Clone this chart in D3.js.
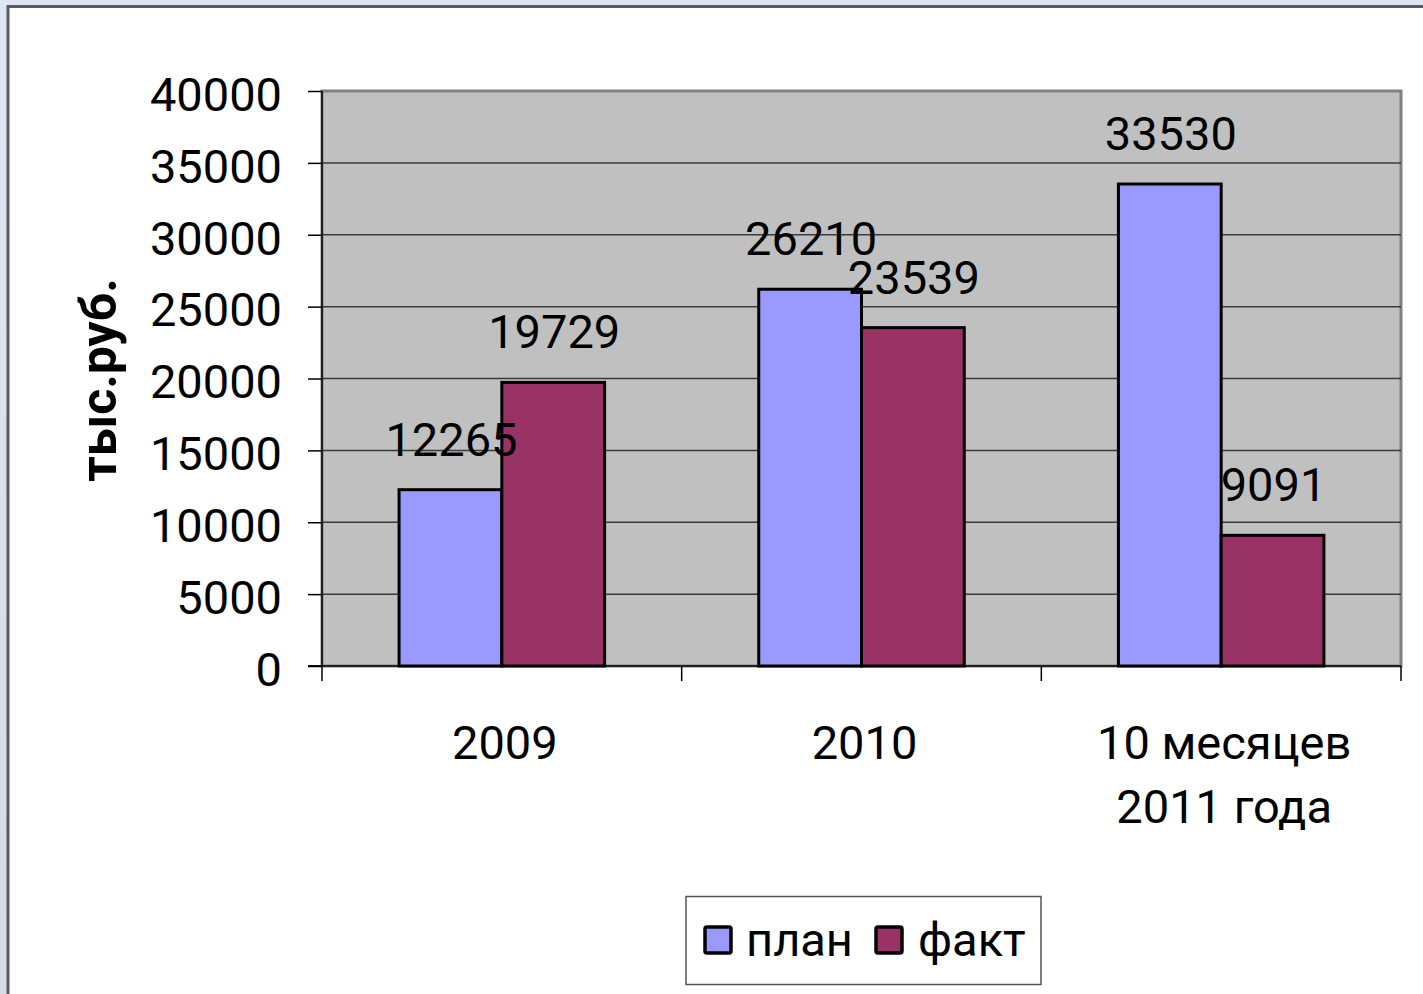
<!DOCTYPE html>
<html><head><meta charset="utf-8">
<script src="https://cdn.jsdelivr.net/npm/d3@7/dist/d3.min.js"></script>
<style>
html,body{margin:0;padding:0;overflow:hidden;background:#d9e0ee;}
svg{display:block;}
text{font-family:Roboto,"Noto Sans",Arial,sans-serif;fill:#000;}
</style></head>
<body>
<svg id="chart" width="1423" height="994"></svg>
<script>
const categories = [["2009"], ["2010"], ["10 месяцев", "2011 года"]];
const seriesNames = ["план", "факт"];
const planValues = [12265, 26210, 33530];
const factValues = [19729, 23539, 9091];
const yTicks = [0, 5000, 10000, 15000, 20000, 25000, 30000, 35000, 40000];
const yTitle = "тыс.руб.";
const colors = ["#9999ff", "#993366"];

const svg = d3.select("#chart");
// slide background
const defs = svg.append("defs");
const lg = defs.append("linearGradient").attr("id","bg").attr("x1","0").attr("y1","0").attr("x2","0").attr("y2","1");
lg.append("stop").attr("offset","0").attr("stop-color","#dfe6f3");
lg.append("stop").attr("offset","1").attr("stop-color","#d6dbe6");
svg.append("rect").attr("width",1423).attr("height",994).attr("fill","url(#bg)");
// white chart panel
svg.append("rect").attr("x",8).attr("y",6.5).attr("width",1430).attr("height",1000)
  .attr("fill","#fff").attr("stroke","#5c5c5c").attr("stroke-width",3);

const L = 322, R = 1401, T = 91, B = 666;
const x0 = d3.scaleBand().domain(d3.range(categories.length)).range([L, R]).paddingInner(0).paddingOuter(0);
const bw = x0.bandwidth() / 3.5;
const x1 = d3.scaleBand().domain(d3.range(seriesNames.length)).range([0.75*bw, 2.75*bw]).padding(0);
const y = d3.scaleLinear().domain([0, 40000]).range([B, T]);

// plot area
svg.append("rect").attr("x",L).attr("y",T).attr("width",R-L).attr("height",B-T)
  .attr("fill","#c0c0c0").attr("stroke","#808080").attr("stroke-width",3);

// gridlines
svg.append("g").selectAll("line").data(yTicks.filter(d=>d>0 && d<40000)).join("line")
  .attr("x1",L).attr("x2",R).attr("y1",d=>y(d)).attr("y2",d=>y(d))
  .attr("stroke","#3a3a3a").attr("stroke-width",1.5);

// y axis
const yAxis = d3.axisLeft(y).tickValues(yTicks).tickSize(14).tickPadding(26).tickFormat(d3.format("d"));
const ya = svg.append("g").attr("transform",`translate(${L},0)`).call(yAxis);
ya.select(".domain").attr("stroke","#000").attr("stroke-width",1.5).attr("d",`M-14,${B}H0V${T}`);
ya.selectAll(".tick line").attr("stroke","#000").attr("stroke-width",1.5);
ya.selectAll(".tick text").style("font-size","47px").attr("dy","0.41em").attr("fill","#000");

// x axis
const xa = svg.append("g").attr("transform",`translate(0,${B})`);
xa.append("line").attr("x1",L-14).attr("x2",R).attr("y1",0).attr("y2",0).attr("stroke","#000").attr("stroke-width",1.5);
const tickXs = d3.range(categories.length).map(i=>x0(i)).concat([x0(categories.length-1)+x0.bandwidth()]);
xa.selectAll("line.t").data(tickXs).join("line").attr("class","t")
  .attr("x1",d=>d).attr("x2",d=>d).attr("y1",0).attr("y2",15).attr("stroke","#000").attr("stroke-width",1.5);
const catText = xa.selectAll("text.cat").data(categories).join("text").attr("class","cat")
  .attr("text-anchor","middle").style("font-size","47px")
  .attr("x",(d,i)=>x0(i)+x0.bandwidth()/2 + 3);
catText.selectAll("tspan").data(d=>d).join("tspan")
  .attr("x",function(){return this.parentNode.getAttribute("x");})
  .attr("y",(d,i)=>93 + i*64).text(d=>d);

// bars
const series = [planValues, factValues];
const g = svg.append("g");
series.forEach((vals, s) => {
  g.selectAll(`rect.s${s}`).data(vals).join("rect").attr("class",`s${s}`)
    .attr("x",(d,i)=>x0(i)+x1(s)).attr("width",x1.bandwidth())
    .attr("y",d=>y(d)).attr("height",d=>B-y(d))
    .attr("fill",colors[s]).attr("stroke","#000").attr("stroke-width",3);
});
// data labels
series.forEach((vals, s) => {
  svg.append("g").selectAll("text").data(vals).join("text")
    .attr("x",(d,i)=>x0(i)+x1(s)+x1.bandwidth()/2+1)
    .attr("y",d=>y(d)-34).attr("text-anchor","middle")
    .style("font-size","47px").text(d=>d);
});

// y title
svg.append("text").attr("transform","translate(116,380) rotate(-90)")
  .attr("text-anchor","middle").style("font-size","50px").style("font-weight","bold").text(yTitle);

// legend
const leg = svg.append("g");
leg.append("rect").attr("x",686).attr("y",896.5).attr("width",355).attr("height",88)
  .attr("fill","#fff").attr("stroke","#555").attr("stroke-width",1.5);
const legX = [705, 876];
const legTX = [746, 918];
seriesNames.forEach((n,i)=>{
  leg.append("rect").attr("x",legX[i]).attr("y",927).attr("width",26).attr("height",26).attr("rx",2)
    .attr("fill",colors[i]).attr("stroke","#000").attr("stroke-width",3.5);
  leg.append("text").attr("x",legTX[i]).attr("y",956).style("font-size","47px").text(n);
});
</script>
</body></html>
